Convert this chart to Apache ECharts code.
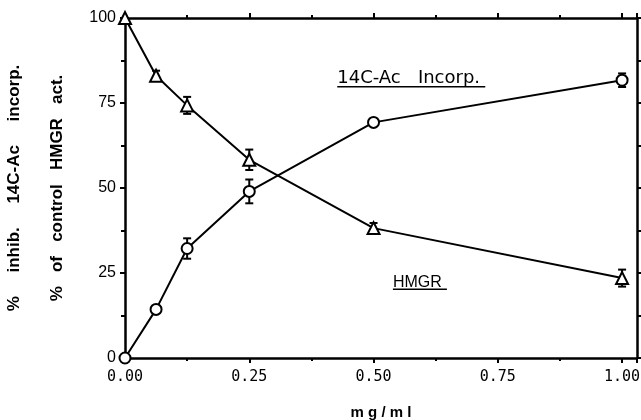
<!DOCTYPE html>
<html><head><meta charset="utf-8">
<script src="https://cdn.jsdelivr.net/npm/echarts@6/dist/echarts.min.js"></script>
<style>html,body{margin:0;padding:0;background:#fff}#c{width:641px;height:420px}</style>
</head><body><div id="c"></div>
<script>
const doses = [0, 0.0625, 0.125, 0.25, 0.5, 1.0];
const hmgr = [100, 83, 74.3, 58.3, 38.2, 23.5];
const hmgrErr = [0, 1.5, 2.5, 3, 1.5, 2.5];
const incorp = [0, 14.3, 32.2, 49, 69.3, 81.7];
const incorpErr = [0, 0, 3, 3.5, 0, 2];
const xTickLabels = [0, 0.25, 0.5, 0.75, 1.0];
const yTickLabels = [0, 25, 50, 75, 100];
const labelIncorp = '14C-Ac   Incorp.';
const labelHmgr = 'HMGR';
const xTitle = 'm g / m l';
const yTitle1 = '%     inhib.     14C-Ac     incorp.';
const yTitle2 = '%   of   control   HMGR   act.';

const chart = echarts.init(document.getElementById('c'), null, {renderer: 'canvas'});
const AX = '#000';
const tickFont = {fontFamily: 'Liberation Sans, Arial, sans-serif', fontSize: 16, color: '#000'};

function xAx(pos, showLabel) {
  return {
    type: 'value', position: pos, min: 0, max: 1.03, interval: 0.25,
    axisLine: {show: true, onZero: false, lineStyle: {color: AX, width: 2.5}},
    axisTick: {show: true, inside: false, length: 5, lineStyle: {color: AX, width: 2}},
    minorTick: {show: true, splitNumber: 2, length: 3, lineStyle: {color: AX, width: 2}},
    splitLine: {show: false},
    axisLabel: showLabel ? {
      margin: 12, color: '#000', fontFamily: 'DejaVu Sans Mono, monospace', fontSize: 15,
      formatter: v => xTickLabels.some(t => Math.abs(t - v) < 1e-9) ? v.toFixed(2) : ''
    } : {show: false},
    name: showLabel ? xTitle : '', nameLocation: 'middle', nameGap: 47,
    nameTextStyle: {fontFamily: 'Liberation Sans, Arial, sans-serif', fontSize: 15, fontWeight: 'bold', color: '#000'}
  };
}
function yAx(pos, showLabel) {
  return {
    type: 'value', position: pos, min: 0, max: 100, interval: 25,
    axisLine: {show: true, onZero: false, lineStyle: {color: AX, width: 2.5}},
    axisTick: {show: true, inside: false, length: 5, lineStyle: {color: AX, width: 2}},
    minorTick: {show: true, splitNumber: 2, length: 4, lineStyle: {color: AX, width: 2}},
    splitLine: {show: false},
    axisLabel: showLabel ? Object.assign({margin: 9}, tickFont) : {show: false},
    name: showLabel ? yTitle1 + '\n' + yTitle2 : '', nameLocation: 'middle', nameGap: 43, nameRotate: 90,
    nameTextStyle: {fontFamily: 'Liberation Sans, Arial, sans-serif', fontSize: 17, fontWeight: 'bold', color: '#000', lineHeight: 43}
  };
}

function errSeries(vals, errs) {
  const data = [];
  doses.forEach((d, i) => { if (errs[i] > 0) data.push([d, vals[i] - errs[i], vals[i] + errs[i]]); });
  return {
    type: 'custom', xAxisIndex: 0, yAxisIndex: 0, silent: true, z: 3,
    encode: {x: 0, y: [1, 2]},
    data: data,
    renderItem(params, api) {
      const x = api.value(0);
      const lo = api.coord([x, api.value(1)]);
      const hi = api.coord([x, api.value(2)]);
      const w = 4;
      const st = {stroke: '#000', lineWidth: 2};
      return {type: 'group', children: [
        {type: 'line', shape: {x1: lo[0], y1: lo[1], x2: hi[0], y2: hi[1]}, style: st},
        {type: 'line', shape: {x1: lo[0] - w, y1: lo[1], x2: lo[0] + w, y2: lo[1]}, style: st},
        {type: 'line', shape: {x1: hi[0] - w, y1: hi[1], x2: hi[0] + w, y2: hi[1]}, style: st}
      ]};
    }
  };
}

function lineSeries(name, vals, symbol, size) {
  return {
    name: name, type: 'line', xAxisIndex: 0, yAxisIndex: 0, z: 5,
    data: doses.map((d, i) => [d, vals[i]]),
    symbol: symbol, symbolSize: size, showAllSymbol: true,
    lineStyle: {color: '#000', width: 2},
    itemStyle: {color: '#fff', borderColor: '#000', borderWidth: 2},
    emphasis: {disabled: true}, animation: false
  };
}

chart.setOption({
  animation: false,
  backgroundColor: '#fff',
  grid: {left: 125, right: 4, top: 18, bottom: 62, containLabel: false, outerBoundsMode: 'none'},
  xAxis: [xAx('bottom', true), xAx('top', false)],
  yAxis: [yAx('left', true), yAx('right', false)],
  series: [
    errSeries(hmgr, hmgrErr),
    errSeries(incorp, incorpErr),
    lineSeries('HMGR', hmgr, 'triangle', 12),
    lineSeries('14C-Ac Incorp.', incorp, 'circle', 11)
  ]
});

// annotations placed in data coordinates
const annIncorp = [0.427, 82.4];
const annHmgr = [0.539, 22.3];
const p1 = chart.convertToPixel({xAxisIndex: 0, yAxisIndex: 0}, annIncorp);
const p2 = chart.convertToPixel({xAxisIndex: 0, yAxisIndex: 0}, annHmgr);
const annFont = 'DejaVu Sans, sans-serif';
chart.setOption({
  graphic: [
    {type: 'text', x: p1[0], y: p1[1], style: {text: labelIncorp, font: '18px ' + annFont, fill: '#000', verticalAlign: 'middle'}},
    {type: 'line', shape: {x1: p1[0], y1: p1[1] + 9, x2: p1[0] + 148, y2: p1[1] + 9}, style: {stroke: '#000', lineWidth: 1.5}},
    {type: 'text', x: p2[0], y: p2[1], style: {text: labelHmgr, font: '16px Liberation Sans, Arial, sans-serif', fill: '#000', verticalAlign: 'middle'}},
    {type: 'line', shape: {x1: p2[0], y1: p2[1] + 7, x2: p2[0] + 54, y2: p2[1] + 7}, style: {stroke: '#000', lineWidth: 1.5}}
  ]
});
</script></body></html>
